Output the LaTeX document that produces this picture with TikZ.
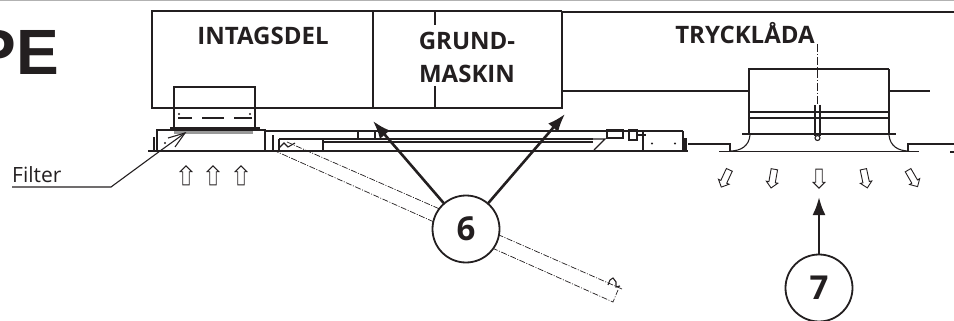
\documentclass[tikz,border=0pt]{standalone}
\usepackage{fontspec}
\setmainfont{Open Sans}
\newfontfamily\titlefont{Liberation Sans}
\usetikzlibrary{arrows.meta,shapes.arrows}
\definecolor{inkdark}{HTML}{231F20}
\tikzset{
    thinline/.style={inkdark, line width=1.1pt},
    thickline/.style={inkdark, line width=2pt},
    doorline/.style={inkdark, line width=0.7pt, dash pattern=on 6pt off 1.5pt on 1pt off 1.5pt},
    airflow/.style={draw=inkdark, line width=0.9pt, single arrow, single arrow head extend=2.6pt,
        single arrow head indent=0pt, minimum height=19pt, inner xsep=0pt, inner ysep=2.8pt},
    callout/.style={circle, draw=inkdark, line width=1.8pt, fill=white, minimum size=67pt, inner sep=0pt,
        font=\fontsize{33}{33}\selectfont\bfseries, text=inkdark},
    pointer/.style={inkdark, line width=2.6pt, -{Latex[length=18pt,width=13pt]}},
    partlabel/.style={font=\fontsize{24}{33}\selectfont\bfseries, text=inkdark, align=center, inner sep=0pt},
}
\begin{document}
\begin{tikzpicture}[x=1pt, y=-1pt]
    \useasboundingbox (0,0) rectangle (954,321);
    \draw[black!30, line width=2pt] (0,0.5) -- (954,0.5);
    \node[anchor=base east, inner sep=0pt, text=inkdark, font=\titlefont\fontsize{64}{64}\selectfont\bfseries] (title) at (59,75) {PE};
    % upper casing
    \draw[thinline] (373,108) -- (152,108) -- (152,11) -- (562,11);
    \draw[thickline] (255,108) -- (373,108);
    \draw[thinline] (373,108) -- (562,108) -- (562,91);
    \draw[thinline] (373,11) -- (373,108);
    \draw[thinline] (435,11) -- (435,25) (435,86) -- (435,108);
    \draw[thickline] (562,91) -- (562,12) -- (954,12);
    \draw[thickline] (562,91) -- (748,91) (889,91) -- (930,91);
    % intake with filter
    \draw[thinline] (174,108) -- (174,87) -- (255,87) -- (255,127) (174,108) -- (174,127);
    \foreach \yy in {108,118} {
        \draw[thinline] (178,\yy) -- (192,\yy) (202,\yy) -- (224,\yy) (234,\yy) -- (252,\yy);
    }
    \foreach \xx in {179,250} \fill[inkdark] (\xx,114) circle (1.2pt);
    \draw[thickline] (170,128) -- (260,128);
    \fill[black!40] (174,130) rectangle (253,134);
    \draw[thinline] (174,130) -- (253,130);
    \draw[thinline] (157,151) -- (157,130) -- (265,130) -- (265,151);
    \draw[thickline, line width=2.6pt] (154,137) -- (154,150);
    \fill[inkdark] (165,143) circle (1.2pt);
    % duct along the ceiling
    \draw[thickline] (148,151) -- (688,151);
    \draw[thickline] (265,131) -- (683,131);
    \draw[thinline] (279,139) -- (323,139) (279,139) -- (279,150);
    \draw[thickline] (273,135) -- (273,151);
    \draw[thinline] (323,150) -- (323,139) -- (593,139);
    \draw[thinline] (323,142) -- (593,142);
    \draw[thinline] (358,131) -- (358,138) (375,131) -- (375,138);
    \draw[thinline] (594,150) -- (605,139) -- (593,139);
    \draw[thickline] (607,130) rectangle (623,138);
    \draw[thickline] (629,130) rectangle (637,140);
    \draw[thickline] (637,135) -- (646,135);
    \draw[thinline] (643,131) -- (643,150) (683,131) -- (683,150);
    \foreach \xx in {652,675} \fill[inkdark] (\xx,143.5) circle (1.2pt);
    \draw[line width=3pt, inkdark] (685,138) -- (685,152);
    % outlet
    \draw[thickline] (748,69) -- (889,69) (749,112) -- (889,112);
    \draw[thinline] (749,118) -- (889,118);
    \draw[thinline] (749,91) -- (749,69) (889,91) -- (889,69);
    \draw[thinline] (749,91) -- (749,134) (889,91) -- (889,134);
    \draw[thickline] (742,134) -- (896,134);
    \draw[thinline] (750,135) .. controls (749,146) and (741,151) .. (730,151);
    \draw[thinline] (889,135) .. controls (890,146) and (898,151) .. (909,151);
    \draw[thickline, line width=1.3pt] (719,151.5) -- (919,151.5);
    \draw[thinline] (688,144) -- (730,144) -- (730,151) (908,151) -- (908,144) -- (954,144);
    \draw[thickline] (950,151.5) -- (954,151.5);
    \draw[thinline] (815,105) -- (815,136) (820,105) -- (820,136);
    \draw[thinline] (817.5,138) circle (2.5pt);
    \draw[thinline, dash pattern=on 8pt off 2pt on 1pt off 2pt] (817.5,44) -- (817.5,105);
    % door, swung down
    \coordinate (doorA) at (287,142);
    \coordinate (doorB) at (622,289);
    \coordinate (doorC) at (273,150);
    \coordinate (doorD) at (613,302);
    \coordinate (doorE) at (618,290);
    \draw[doorline] (doorA) -- (doorB);
    \draw[doorline] (doorC) -- (doorD) -- (doorE);
    \draw[thinline] (279,148) -- (284,143) -- (288,147) -- (295,143);
    \draw[thinline] (608,285) -- (610,280) -- (613,278) -- (616,282) -- (616,287) -- (620,286);
    % air in and out
    \foreach \xx in {186,213,241} \node[airflow, rotate=90] (in\xx) at (\xx,177) {};
    \foreach \xx/\aa in {726/-115,773/-100,819/-90,865/-78,912/-60} \node[airflow, rotate=\aa] (out\xx) at (\xx,177) {};
    % filter leader
    \node[anchor=base west, inner sep=0pt, text=inkdark, font=\fontsize{21}{21}\selectfont] (filter) at (12,182) {Filter};
    \coordinate (ledgeA) at (12,187);
    \coordinate (ledgeB) at (111,187);
    \coordinate (ledgeC) at (160,151);
    \coordinate (ledgeD) at (185,133);
    \coordinate (ledgeE) at (168,138);
    \coordinate (ledgeF) at (175,147);
    \draw[thinline] (ledgeA) -- (ledgeB) -- (ledgeC) -- (ledgeD);
    \draw[thinline] (ledgeE) -- (ledgeD) -- (ledgeF);
    % labels
    \node[partlabel] (intag) at (263,36) {INTAGSDEL};
    \node[partlabel] (grund) at (467,57) {GRUND-\\MASKIN};
    \node[partlabel] (tryck) at (745,33) {TRYCKLÅDA};
    % callouts
    \node[callout] (six) at (466,229) {6};
    \node[callout] (seven) at (819,288) {7};
    \coordinate (tipA) at (373,121);
    \coordinate (tipB) at (565,114);
    \coordinate (tipC) at (819,197);
    \draw[pointer] (six) -- (tipA);
    \draw[pointer] (six) -- (tipB);
    \draw[pointer] (seven) -- (tipC);
\end{tikzpicture}
\end{document}
